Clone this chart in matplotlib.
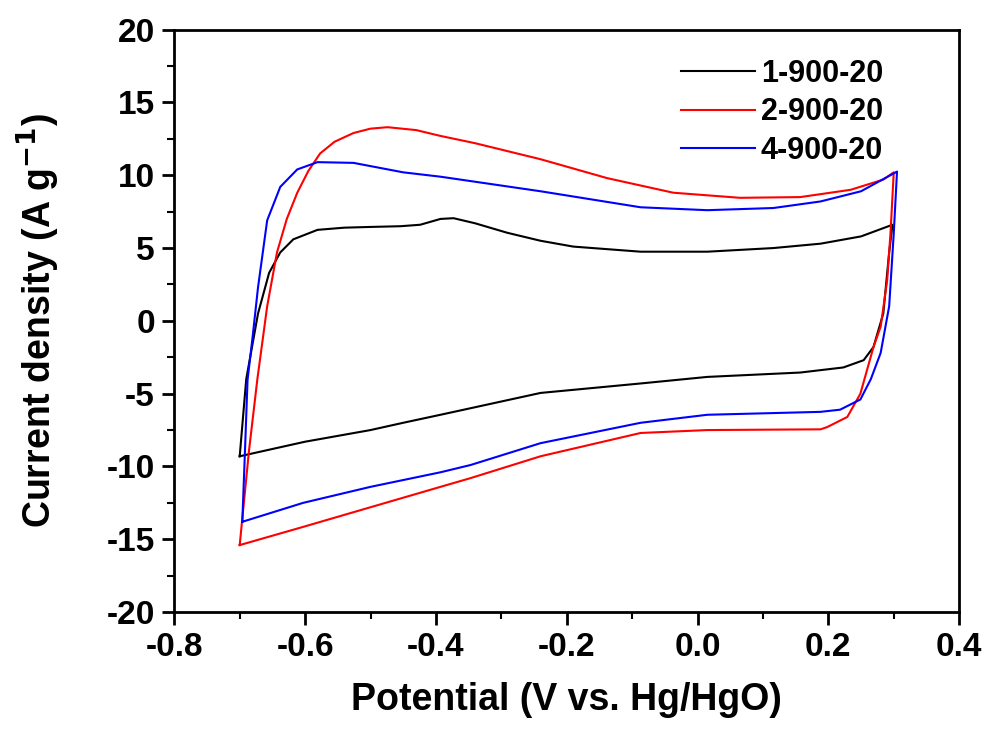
import numpy as np
import matplotlib.pyplot as plt

# CV loops: upper (anodic) branch left->right, then lower branch right->left
x_1 = [-0.700, -0.690, -0.672, -0.655, -0.638, -0.618, -0.581, -0.540, -0.500, -0.454,
       -0.424, -0.393, -0.373, -0.340, -0.291, -0.240, -0.190, -0.087, 0.015, 0.116,
       0.188, 0.250, 0.298,
       0.293, 0.284, 0.269, 0.254, 0.223, 0.157, 0.015, -0.087, -0.240, -0.347,
       -0.393, -0.450, -0.500, -0.600, -0.700]
y_1 = [-9.3, -4.0, 0.5, 3.3, 4.7, 5.6, 6.25, 6.4, 6.45, 6.5,
       6.6, 7.0, 7.05, 6.7, 6.05, 5.5, 5.1, 4.75, 4.75, 5.0,
       5.3, 5.8, 6.6,
       4.7, 0.5, -1.8, -2.7, -3.2, -3.55, -3.85, -4.3, -4.95, -6.0,
       -6.45, -7.0, -7.5, -8.3, -9.3]

x_2 = [-0.700, -0.686, -0.673, -0.658, -0.643, -0.628, -0.612, -0.595, -0.577, -0.555,
       -0.526, -0.500, -0.474, -0.430, -0.393, -0.340, -0.240, -0.138, -0.037, 0.065,
       0.157, 0.234, 0.284, 0.300,
       0.295, 0.290, 0.280, 0.269, 0.249, 0.229, 0.198, 0.188, 0.015, -0.087,
       -0.240, -0.347, -0.393, -0.500, -0.603, -0.700]
y_2 = [-15.4, -9.0, -4.0, 1.0, 4.7, 7.0, 8.8, 10.3, 11.5, 12.3,
       12.9, 13.2, 13.3, 13.1, 12.7, 12.2, 11.1, 9.8, 8.8, 8.45,
       8.5, 9.0, 9.7, 10.2,
       6.0, 2.8, -0.4, -1.8, -5.0, -6.6, -7.3, -7.45, -7.5, -7.7,
       -9.3, -10.8, -11.4, -12.8, -14.15, -15.4]

x_4 = [-0.696, -0.692, -0.688, -0.680, -0.672, -0.658, -0.638, -0.612, -0.581, -0.526,
       -0.450, -0.393, -0.240, -0.087, 0.015, 0.116, 0.188, 0.250, 0.305,
       0.300, 0.293, 0.280, 0.265, 0.249, 0.218, 0.188, 0.015, -0.087, -0.240,
       -0.347, -0.393, -0.500, -0.603, -0.696]
y_4 = [-13.8, -9.0, -4.05, -1.0, 2.3, 6.9, 9.2, 10.4, 10.9, 10.85,
       10.2, 9.9, 8.9, 7.8, 7.6, 7.75, 8.2, 8.9, 10.25,
       6.0, 1.0, -2.2, -4.0, -5.4, -6.1, -6.25, -6.45, -7.0, -8.4,
       -9.9, -10.4, -11.4, -12.5, -13.8]

labels = ['1-900-20', '2-900-20', '4-900-20']
colors = ['black', '#ff0000', '#0000ff']

plt.rcParams['font.family'] = 'Liberation Sans'
plt.rcParams['font.weight'] = 'bold'
plt.rcParams['mathtext.default'] = 'bf'
plt.rcParams['axes.unicode_minus'] = False

fig = plt.figure(figsize=(9.96, 7.41), dpi=100)
ax = fig.add_axes([0.175, 0.174, 0.788, 0.786])

for xs, ys, lab, c in zip([x_1, x_2, x_4], [y_1, y_2, y_4], labels, colors):
    ax.plot(xs, ys, color=c, lw=1.5, label=lab)

ax.set_xlim(-0.8, 0.4)
ax.set_ylim(-20, 20)
ax.set_xticks(np.arange(-0.8, 0.41, 0.2))
ax.set_xticks(np.arange(-0.8, 0.41, 0.1), minor=True)
ax.set_yticks(np.arange(-20, 21, 5))
ax.set_yticks(np.arange(-20, 21, 2.5), minor=True)
ax.set_xticklabels(['-0.8', '-0.6', '-0.4', '-0.2', '0.0', '0.2', '0.4'])
ax.tick_params(which='major', direction='out', length=9, width=2, labelsize=24, pad=5)
ax.tick_params(which='minor', direction='out', length=5, width=1.5)
for s in ax.spines.values():
    s.set_linewidth(2)

ax.set_xlabel('Potential (V vs. Hg/HgO)', fontsize=27, fontweight='bold', labelpad=14)
ax.set_ylabel('Current density (A g$^{-1}$)', fontsize=27, fontweight='bold', labelpad=32)

ax.legend(loc='upper right', bbox_to_anchor=(0.938, 0.997), frameon=False,
          fontsize=22, handlelength=2.4, labelspacing=0.28, handletextpad=0.2)

fig.savefig('out.png', dpi=100)
